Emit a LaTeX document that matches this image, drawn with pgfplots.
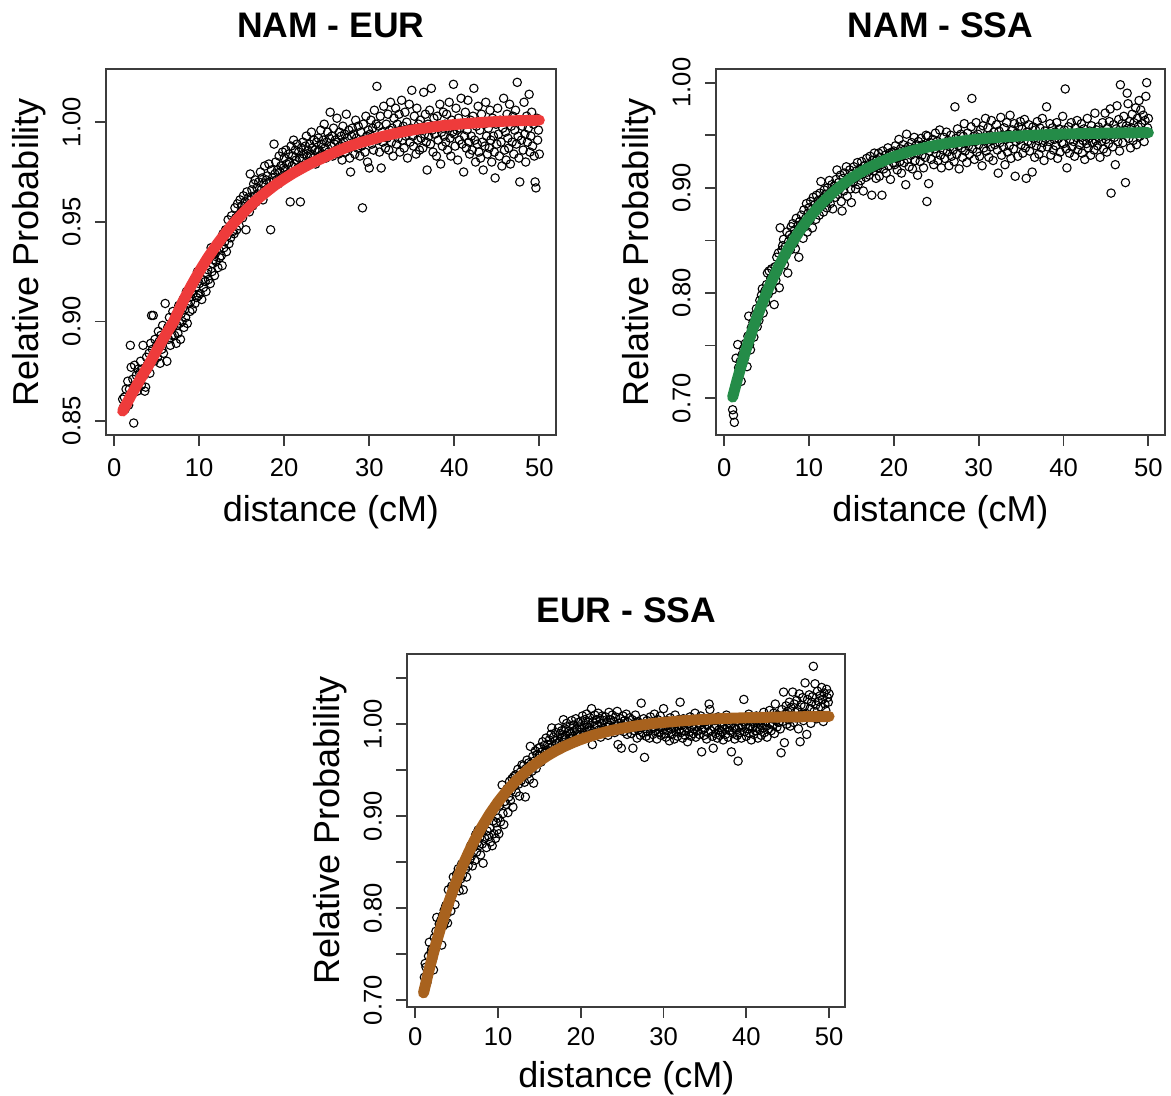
\documentclass[border=0pt]{standalone}
\usepackage{fontspec}
\setmainfont{Liberation Sans}
\usepackage{pgfplots}
\usepackage{pgfplotstable}
\pgfplotsset{compat=1.18}

\definecolor{fitred}{RGB}{238,59,59}
\definecolor{fitgreen}{RGB}{36,140,72}
\definecolor{fitbrown}{RGB}{168,98,30}
\definecolor{frame}{RGB}{60,60,60}

% ---------- NAM - EUR : observed relative probability ----------
\pgfplotstableread{
x y
1.0 0.861
1.1 0.857
1.2 0.862
1.3 0.856
1.4 0.866
1.5 0.859
1.6 0.870
1.7 0.858
1.8 0.866
1.9 0.888
2.0 0.877
2.1 0.864
2.2 0.871
2.3 0.849
2.4 0.878
2.5 0.868
2.6 0.873
2.7 0.865
2.8 0.876
2.9 0.870
3.0 0.874
3.1 0.880
3.2 0.868
3.3 0.876
3.4 0.888
3.5 0.873
3.6 0.865
3.7 0.867
3.8 0.882
3.9 0.876
4.0 0.879
4.1 0.884
4.2 0.874
4.3 0.889
4.4 0.903
4.5 0.886
4.6 0.903
4.7 0.880
4.8 0.891
4.9 0.885
5.0 0.888
5.1 0.882
5.2 0.895
5.3 0.890
5.4 0.879
5.5 0.893
5.6 0.886
5.7 0.898
5.8 0.884
5.9 0.891
6.0 0.909
6.1 0.894
6.2 0.880
6.3 0.897
6.4 0.891
6.5 0.902
6.6 0.888
6.7 0.896
6.8 0.893
6.9 0.905
7.0 0.898
7.1 0.893
7.2 0.903
7.3 0.889
7.4 0.898
7.5 0.894
7.6 0.908
7.7 0.899
7.8 0.891
7.9 0.904
8.0 0.900
8.1 0.911
8.2 0.897
8.3 0.906
8.4 0.902
8.5 0.915
8.6 0.899
8.7 0.909
8.8 0.912
8.9 0.905
9.0 0.910
9.1 0.918
9.2 0.906
9.3 0.914
9.4 0.921
9.5 0.909
9.6 0.917
9.7 0.912
9.8 0.925
9.9 0.913
10.0 0.919
10.1 0.914
10.2 0.926
10.3 0.911
10.4 0.921
10.5 0.917
10.6 0.929
10.7 0.920
10.8 0.915
10.9 0.924
11.0 0.926
11.1 0.921
11.2 0.932
11.3 0.919
11.4 0.937
11.5 0.925
11.6 0.929
11.7 0.931
11.8 0.923
11.9 0.934
12.0 0.930
12.1 0.939
12.2 0.927
12.3 0.936
12.4 0.932
12.5 0.941
12.6 0.933
12.7 0.928
12.8 0.944
12.9 0.937
13.0 0.940
13.1 0.946
13.2 0.935
13.3 0.943
13.4 0.951
13.5 0.939
13.6 0.947
13.7 0.942
13.8 0.953
13.9 0.945
14.0 0.950
14.1 0.944
14.2 0.957
14.3 0.952
14.4 0.946
14.5 0.959
14.6 0.953
14.7 0.948
14.8 0.961
14.9 0.955
15.0 0.958
15.1 0.952
15.2 0.963
15.3 0.956
15.4 0.960
15.5 0.946
15.6 0.965
15.7 0.958
15.8 0.962
15.9 0.955
16.0 0.974
16.1 0.961
16.2 0.966
16.3 0.958
16.4 0.969
16.5 0.963
16.6 0.971
16.7 0.960
16.8 0.967
16.9 0.964
17.0 0.970
17.1 0.963
17.2 0.975
17.3 0.966
17.4 0.972
17.5 0.961
17.6 0.969
17.7 0.978
17.8 0.965
17.9 0.971
18.0 0.973
18.1 0.967
18.2 0.979
18.3 0.970
18.4 0.946
18.5 0.976
18.6 0.972
18.7 0.968
18.8 0.989
18.9 0.974
19.0 0.980
19.1 0.971
19.2 0.976
19.3 0.969
19.4 0.983
19.5 0.975
19.6 0.978
19.7 0.972
19.8 0.985
19.9 0.977
20.0 0.982
20.1 0.976
20.2 0.986
20.3 0.979
20.4 0.974
20.5 0.984
20.6 0.980
20.7 0.960
20.8 0.988
20.9 0.978
21.0 0.983
21.1 0.991
21.2 0.979
21.3 0.986
21.4 0.981
21.5 0.989
21.6 0.977
21.7 0.985
21.8 0.982
21.9 0.960
22.0 0.987
22.1 0.982
22.2 0.990
22.3 0.984
22.4 0.978
22.5 0.988
22.6 0.993
22.7 0.983
22.8 0.986
22.9 0.980
23.0 0.989
23.1 0.984
23.2 0.995
23.3 0.987
23.4 0.982
23.5 0.991
23.6 0.986
23.7 0.979
23.8 0.990
23.9 0.985
24.0 0.992
24.1 0.986
24.2 0.983
24.3 0.996
24.4 0.989
24.5 0.984
24.6 0.991
24.7 0.999
24.8 0.987
24.9 0.982
25.0 0.990
25.1 0.995
25.2 0.985
25.3 0.992
25.4 1.005
25.5 0.988
25.6 0.993
25.7 0.983
25.8 0.997
25.9 0.989
26.0 0.991
26.1 0.986
26.2 1.002
26.3 0.990
26.4 0.984
26.5 0.995
26.6 0.988
26.7 0.993
26.8 0.981
26.9 0.998
27.0 0.990
27.1 0.994
27.2 0.985
27.3 1.004
27.4 0.992
27.5 0.987
27.6 0.996
27.7 0.982
27.8 0.975
27.9 0.993
28.0 0.997
28.1 0.989
28.2 0.994
28.3 0.984
28.4 1.001
28.5 0.992
28.6 0.987
28.7 0.998
28.8 0.990
28.9 0.983
29.0 0.995
29.1 0.988
29.2 0.957
29.3 0.999
29.4 0.991
29.5 0.985
29.6 1.003
29.7 0.993
29.8 0.980
29.9 0.996
30.0 0.977
30.1 0.994
30.2 1.001
30.3 0.989
30.4 0.997
30.5 0.986
30.6 1.006
30.7 0.992
30.8 0.999
30.9 1.018
31.0 0.991
31.1 0.998
31.2 0.985
31.3 1.003
31.4 0.977
31.5 0.995
31.6 0.990
31.7 1.008
31.8 0.993
31.9 0.987
32.0 0.999
32.1 0.992
32.2 1.004
32.3 0.986
32.4 0.996
32.5 1.010
32.6 0.990
32.7 0.997
32.8 0.983
32.9 1.002
33.0 0.994
33.1 1.007
33.2 0.989
33.3 0.999
33.4 0.992
33.5 1.004
33.6 0.985
33.7 0.996
33.8 1.011
33.9 0.991
34.0 0.998
34.1 0.987
34.2 1.005
34.3 0.993
34.4 1.000
34.5 0.982
34.6 0.996
34.7 1.009
34.8 0.990
34.9 0.997
35.0 1.016
35.1 0.993
35.2 0.988
35.3 1.003
35.4 0.996
35.5 0.984
35.6 1.007
35.7 0.991
35.8 0.999
35.9 0.986
36.0 1.001
36.1 0.992
36.2 0.997
36.3 0.987
36.4 1.015
36.5 0.994
36.6 1.004
36.7 0.990
36.8 0.976
36.9 0.999
37.0 0.993
37.1 1.006
37.2 0.989
37.3 1.017
37.4 0.996
37.5 0.985
37.6 1.002
37.7 0.994
37.8 0.998
37.9 0.983
38.0 1.003
38.1 0.991
38.2 0.997
38.3 1.009
38.4 0.979
38.5 0.995
38.6 0.988
38.7 1.005
38.8 0.993
38.9 0.999
39.0 0.990
39.1 1.004
39.2 0.986
39.3 0.997
39.4 1.010
39.5 0.992
39.6 0.983
39.7 1.001
39.8 0.995
39.9 1.019
40.0 0.994
40.1 0.988
40.2 1.007
40.3 0.996
40.4 0.981
40.5 1.002
40.6 0.991
40.7 0.997
40.8 1.012
40.9 0.989
41.0 0.999
41.1 0.975
41.2 0.993
41.3 1.005
41.4 0.987
41.5 0.996
41.6 1.011
41.7 0.990
41.8 0.984
41.9 1.001
42.0 0.993
42.1 0.986
42.2 1.003
42.3 1.017
42.4 0.991
42.5 0.980
42.6 0.998
42.7 0.989
42.8 1.008
42.9 0.985
43.0 0.996
43.1 0.982
43.2 1.004
43.3 0.990
43.4 0.976
43.5 0.999
43.6 0.988
43.7 1.010
43.8 0.993
43.9 0.984
44.0 0.997
44.1 0.987
44.2 1.006
44.3 0.991
44.4 0.980
44.5 1.002
44.6 0.993
44.7 0.985
44.8 0.972
44.9 0.999
45.0 0.989
45.1 1.007
45.2 0.994
45.3 0.983
45.4 1.001
45.5 0.990
45.6 0.978
45.7 0.997
45.8 1.012
45.9 0.986
46.0 0.995
46.1 0.981
46.2 1.004
46.3 0.992
46.4 0.987
46.5 1.009
46.6 0.979
46.7 0.998
46.8 0.990
46.9 1.003
47.0 0.984
47.1 0.996
47.2 1.006
47.3 0.989
47.4 1.020
47.5 0.993
47.6 0.982
47.7 0.970
47.8 1.001
47.9 0.991
48.0 0.998
48.1 0.986
48.2 1.010
48.3 0.994
48.4 0.980
48.5 1.003
48.6 0.990
48.7 0.997
48.8 1.014
48.9 0.985
49.0 0.993
49.1 1.005
49.2 0.988
49.3 0.999
49.4 0.983
49.5 0.970
49.6 0.967
49.7 1.002
49.8 0.991
49.9 0.996
50.0 0.984
}\obsNamEur

% fitted curve, NAM - EUR
\pgfplotstableread{
x y
1 0.8550
2 0.8630
3 0.8705
4 0.8777
5 0.8854
6 0.8929
7 0.9000
8 0.9092
9 0.9174
10 0.9250
11 0.9319
12 0.9381
13 0.9438
14 0.9490
15 0.9537
16 0.9580
17 0.9619
18 0.9654
19 0.9687
20 0.9716
21 0.9743
22 0.9767
23 0.9790
24 0.9810
25 0.9830
26 0.9850
27 0.9868
28 0.9884
29 0.9898
30 0.9910
31 0.9922
32 0.9933
33 0.9943
34 0.9952
35 0.9960
36 0.9967
37 0.9973
38 0.9979
39 0.9984
40 0.9988
41 0.9992
42 0.9995
43 0.9998
44 1.0001
45 1.0003
46 1.0005
47 1.0007
48 1.0008
49 1.0009
50 1.0010
}\fitNamEur

% ---------- NAM - SSA : observed relative probability ----------
\pgfplotstableread{
x y
1.0 0.689
1.1 0.684
1.2 0.677
1.3 0.712
1.4 0.738
1.5 0.718
1.6 0.751
1.7 0.729
1.8 0.724
1.9 0.735
2.0 0.716
2.1 0.741
2.2 0.733
2.3 0.747
2.4 0.738
2.5 0.752
2.6 0.744
2.7 0.730
2.8 0.759
2.9 0.778
3.0 0.751
3.1 0.746
3.2 0.767
3.3 0.761
3.4 0.772
3.5 0.758
3.6 0.779
3.7 0.770
3.8 0.785
3.9 0.768
4.0 0.782
4.1 0.774
4.2 0.793
4.3 0.786
4.4 0.798
4.5 0.804
4.6 0.781
4.7 0.795
4.8 0.802
4.9 0.791
5.0 0.808
5.1 0.819
5.2 0.799
5.3 0.821
5.4 0.806
5.5 0.814
5.6 0.823
5.7 0.803
5.8 0.817
5.9 0.789
6.0 0.825
6.1 0.812
6.2 0.834
6.3 0.820
6.4 0.838
6.5 0.805
6.6 0.862
6.7 0.829
6.8 0.841
6.9 0.845
7.0 0.851
7.1 0.827
7.2 0.844
7.3 0.836
7.4 0.858
7.5 0.819
7.6 0.849
7.7 0.855
7.8 0.841
7.9 0.863
8.0 0.853
8.1 0.866
8.2 0.847
8.3 0.860
8.4 0.842
8.5 0.871
8.6 0.856
8.7 0.864
8.8 0.834
8.9 0.868
9.0 0.859
9.1 0.874
9.2 0.866
9.3 0.852
9.4 0.879
9.5 0.863
9.6 0.871
9.7 0.885
9.8 0.858
9.9 0.876
10.0 0.881
10.1 0.869
10.2 0.887
10.3 0.874
10.4 0.862
10.5 0.891
10.6 0.878
10.7 0.884
10.8 0.870
10.9 0.893
11.0 0.879
11.1 0.888
11.2 0.874
11.3 0.895
11.4 0.906
11.5 0.883
11.6 0.890
11.7 0.877
11.8 0.898
11.9 0.886
12.0 0.894
12.1 0.881
12.2 0.900
12.3 0.889
12.4 0.907
12.5 0.885
12.6 0.896
12.7 0.903
12.8 0.880
12.9 0.899
13.0 0.902
13.1 0.891
13.2 0.908
13.3 0.917
13.4 0.894
13.5 0.905
13.6 0.899
13.7 0.912
13.8 0.887
13.9 0.878
14.0 0.909
14.1 0.897
14.2 0.914
14.3 0.903
14.4 0.920
14.5 0.892
14.6 0.910
14.7 0.906
14.8 0.917
14.9 0.899
15.0 0.886
15.1 0.913
15.2 0.905
15.3 0.920
15.4 0.909
15.5 0.899
15.6 0.916
15.7 0.924
15.8 0.903
15.9 0.912
16.0 0.918
16.1 0.907
16.2 0.925
16.3 0.913
16.4 0.897
16.5 0.921
16.6 0.921
16.7 0.910
16.8 0.928
16.9 0.915
17.0 0.922
17.1 0.912
17.2 0.930
17.3 0.918
17.4 0.893
17.5 0.926
17.6 0.916
17.7 0.933
17.8 0.920
17.9 0.909
18.0 0.927
18.1 0.919
18.2 0.933
18.3 0.911
18.4 0.929
18.5 0.922
18.6 0.893
18.7 0.935
18.8 0.918
18.9 0.926
19.0 0.931
19.1 0.914
19.2 0.927
19.3 0.938
19.4 0.921
19.5 0.933
19.6 0.908
19.7 0.929
19.8 0.934
19.9 0.924
20.0 0.935
20.1 0.922
20.2 0.940
20.3 0.928
20.4 0.917
20.5 0.933
20.6 0.946
20.7 0.925
20.8 0.937
20.9 0.914
21.0 0.930
21.1 0.941
21.2 0.924
21.3 0.936
21.4 0.903
21.5 0.951
21.6 0.927
21.7 0.939
21.8 0.920
21.9 0.934
22.0 0.931
22.1 0.943
22.2 0.918
22.3 0.937
22.4 0.948
22.5 0.926
22.6 0.940
22.7 0.933
22.8 0.912
22.9 0.944
23.0 0.936
23.1 0.925
23.2 0.947
23.3 0.931
23.4 0.941
23.5 0.919
23.6 0.938
23.7 0.929
23.8 0.950
23.9 0.887
24.0 0.949
24.1 0.904
24.2 0.935
24.3 0.943
24.4 0.927
24.5 0.939
24.6 0.946
24.7 0.922
24.8 0.937
24.9 0.952
25.0 0.933
25.1 0.944
25.2 0.926
25.3 0.940
25.4 0.955
25.5 0.931
25.6 0.919
25.7 0.942
25.8 0.936
25.9 0.948
26.0 0.928
26.1 0.941
26.2 0.953
26.3 0.934
26.4 0.945
26.5 0.921
26.6 0.939
26.7 0.950
26.8 0.930
26.9 0.943
27.0 0.936
27.1 0.925
27.2 0.977
27.3 0.947
27.4 0.932
27.5 0.956
27.6 0.940
27.7 0.918
27.8 0.944
27.9 0.951
28.0 0.938
28.1 0.929
28.2 0.949
28.3 0.961
28.4 0.935
28.5 0.943
28.6 0.924
28.7 0.952
28.8 0.940
28.9 0.932
29.0 0.946
29.1 0.958
29.2 0.985
29.3 0.937
29.4 0.949
29.5 0.927
29.6 0.944
29.7 0.962
29.8 0.934
29.9 0.951
30.0 0.941
30.1 0.930
30.2 0.955
30.3 0.946
30.4 0.921
30.5 0.959
30.6 0.938
30.7 0.948
30.8 0.966
30.9 0.935
31.0 0.943
31.1 0.957
31.2 0.929
31.3 0.950
31.4 0.939
31.5 0.964
31.6 0.945
31.7 0.926
31.8 0.953
31.9 0.941
32.0 0.948
32.1 0.960
32.2 0.936
32.3 0.914
32.4 0.954
32.5 0.943
32.6 0.967
32.7 0.931
32.8 0.950
32.9 0.939
33.0 0.957
33.1 0.922
33.2 0.946
33.3 0.962
33.4 0.934
33.5 0.951
33.6 0.940
33.7 0.969
33.8 0.928
33.9 0.947
34.0 0.955
34.1 0.937
34.2 0.961
34.3 0.911
34.4 0.944
34.5 0.952
34.6 0.930
34.7 0.958
34.8 0.946
34.9 0.963
35.0 0.941
35.1 0.956
35.2 0.933
35.3 0.949
35.4 0.965
35.5 0.938
35.6 0.909
35.7 0.953
35.8 0.944
35.9 0.960
36.0 0.935
36.1 0.951
36.2 0.942
36.3 0.915
36.4 0.958
36.5 0.947
36.6 0.929
36.7 0.955
36.8 0.940
36.9 0.963
37.0 0.945
37.1 0.932
37.2 0.957
37.3 0.950
37.4 0.938
37.5 0.966
37.6 0.943
37.7 0.926
37.8 0.954
37.9 0.947
38.0 0.977
38.1 0.939
38.2 0.952
38.3 0.944
38.4 0.961
38.5 0.931
38.6 0.949
38.7 0.957
38.8 0.936
38.9 0.946
39.0 0.953
39.1 0.940
39.2 0.962
39.3 0.928
39.4 0.947
39.5 0.956
39.6 0.934
39.7 0.951
39.8 0.943
39.9 0.968
40.0 0.942
40.1 0.955
40.2 0.994
40.3 0.937
40.4 0.919
40.5 0.950
40.6 0.958
40.7 0.933
40.8 0.946
40.9 0.962
41.0 0.939
41.1 0.951
41.2 0.944
41.3 0.930
41.4 0.957
41.5 0.948
41.6 0.964
41.7 0.936
41.8 0.953
41.9 0.941
42.0 0.949
42.1 0.961
42.2 0.933
42.3 0.945
42.4 0.956
42.5 0.927
42.6 0.952
42.7 0.942
42.8 0.966
42.9 0.938
43.0 0.947
43.1 0.954
43.2 0.931
43.3 0.959
43.4 0.943
43.5 0.950
43.6 0.936
43.7 0.971
43.8 0.945
43.9 0.955
44.0 0.940
44.1 0.958
44.2 0.948
44.3 0.929
44.4 0.953
44.5 0.944
44.6 0.962
44.7 0.937
44.8 0.950
44.9 0.971
45.0 0.946
45.1 0.934
45.2 0.957
45.3 0.942
45.4 0.963
45.5 0.975
45.6 0.895
45.7 0.951
45.8 0.939
45.9 0.960
46.0 0.948
46.1 0.922
46.2 0.956
46.3 0.978
46.4 0.944
46.5 0.965
46.6 0.935
46.7 0.998
46.8 0.952
46.9 0.961
47.0 0.943
47.1 0.968
47.2 0.955
47.3 0.905
47.4 0.959
47.5 0.990
47.6 0.980
47.7 0.947
47.8 0.963
47.9 0.938
48.0 0.957
48.1 0.970
48.2 0.945
48.3 0.962
48.4 0.953
48.5 0.976
48.6 0.941
48.7 0.966
48.8 0.958
48.9 0.983
49.0 0.949
49.1 0.974
49.2 0.961
49.3 0.952
49.4 0.969
49.5 0.944
49.6 0.964
49.7 0.987
49.8 1.000
49.9 0.957
50.0 0.966
}\obsNamSsa

% fitted curve, NAM - SSA
\pgfplotstableread{
x y
1 0.7010
1.5 0.7163
2 0.7306
2.5 0.7441
3 0.7567
3.5 0.7686
4 0.7798
4.5 0.7903
5 0.8002
5.5 0.8094
6 0.8181
6.5 0.8263
7 0.8340
7.5 0.8412
8 0.8479
9 0.8603
10 0.8712
11 0.8808
12 0.8893
13 0.8968
14 0.9034
15 0.9092
16 0.9143
17 0.9189
18 0.9229
19 0.9264
20 0.9296
21 0.9323
22 0.9348
23 0.9369
24 0.9388
25 0.9405
26 0.9419
27 0.9432
28 0.9444
29 0.9454
30 0.9463
31 0.9471
32 0.9478
33 0.9484
34 0.9489
35 0.9494
36 0.9498
37 0.9502
38 0.9505
39 0.9508
40 0.9511
41 0.9513
42 0.9515
43 0.9517
44 0.9518
45 0.9520
46 0.9521
47 0.9522
48 0.9523
49 0.9524
50 0.9524
}\fitNamSsa

% ---------- EUR - SSA : observed relative probability ----------
\pgfplotstableread{
x y
1.0 0.708
1.1 0.725
1.2 0.740
1.3 0.736
1.4 0.719
1.5 0.731
1.6 0.748
1.7 0.763
1.8 0.739
1.9 0.752
2.0 0.756
2.1 0.745
2.2 0.733
2.3 0.768
2.4 0.757
2.5 0.775
2.6 0.790
2.7 0.764
2.8 0.771
2.9 0.783
3.0 0.779
3.1 0.787
3.2 0.760
3.3 0.792
3.4 0.781
3.5 0.798
3.6 0.786
3.7 0.803
3.8 0.794
3.9 0.784
4.0 0.820
4.1 0.804
4.2 0.812
4.3 0.797
4.4 0.824
4.5 0.815
4.6 0.834
4.7 0.822
4.8 0.804
4.9 0.829
5.0 0.837
5.1 0.826
5.2 0.843
5.3 0.819
5.4 0.840
5.5 0.832
5.6 0.848
5.7 0.836
5.8 0.820
5.9 0.851
6.0 0.849
6.1 0.843
6.2 0.834
6.3 0.858
6.4 0.846
6.5 0.862
6.6 0.853
6.7 0.868
6.8 0.857
6.9 0.846
7.0 0.866
7.1 0.874
7.2 0.852
7.3 0.880
7.4 0.861
7.5 0.871
7.6 0.885
7.7 0.868
7.8 0.877
7.9 0.858
8.0 0.883
8.1 0.870
8.2 0.849
8.3 0.890
8.4 0.876
8.5 0.895
8.6 0.866
8.7 0.884
8.8 0.899
8.9 0.878
9.0 0.887
9.1 0.872
9.2 0.903
9.3 0.868
9.4 0.895
9.5 0.881
9.6 0.909
9.7 0.876
9.8 0.893
9.9 0.885
10.0 0.898
10.1 0.881
10.2 0.912
10.3 0.894
10.4 0.920
10.5 0.934
10.6 0.903
10.7 0.891
10.8 0.916
10.9 0.925
11.0 0.913
11.1 0.930
11.2 0.904
11.3 0.921
11.4 0.938
11.5 0.917
11.6 0.928
11.7 0.941
11.8 0.910
11.9 0.943
12.0 0.933
12.1 0.945
12.2 0.926
12.3 0.940
12.4 0.951
12.5 0.935
12.6 0.922
12.7 0.948
12.8 0.939
12.9 0.956
13.0 0.943
13.1 0.955
13.2 0.937
13.3 0.921
13.4 0.952
13.5 0.961
13.6 0.946
13.7 0.958
13.8 0.940
13.9 0.976
14.0 0.957
14.1 0.949
14.2 0.965
14.3 0.936
14.4 0.960
14.5 0.971
14.6 0.952
14.7 0.967
14.8 0.958
14.9 0.974
15.0 0.966
15.1 0.975
15.2 0.959
15.3 0.970
15.4 0.981
15.5 0.964
15.6 0.977
15.7 0.969
15.8 0.985
15.9 0.972
16.0 0.978
16.1 0.968
16.2 0.983
16.3 0.974
16.4 0.989
16.5 0.996
16.6 0.976
16.7 0.986
16.8 0.971
16.9 0.982
17.0 0.991
17.1 0.979
17.2 0.985
17.3 0.996
17.4 0.981
17.5 0.990
17.6 0.975
17.7 0.993
17.8 0.986
17.9 1.005
18.0 0.983
18.1 0.995
18.2 0.988
18.3 1.001
18.4 0.979
18.5 0.992
18.6 0.985
18.7 0.998
18.8 0.990
18.9 1.004
19.0 0.987
19.1 0.999
19.2 0.993
19.3 0.983
19.4 1.006
19.5 0.995
19.6 0.989
19.7 1.002
19.8 0.997
19.9 0.991
20.0 1.003
20.1 0.994
20.2 1.009
20.3 0.988
20.4 0.999
20.5 1.005
20.6 0.992
20.7 1.011
20.8 0.997
20.9 1.002
21.0 0.996
21.1 1.007
21.2 0.993
21.3 1.017
21.4 0.978
21.5 1.003
21.6 0.998
21.7 1.010
21.8 0.990
21.9 1.005
22.0 0.999
22.1 1.012
22.2 0.994
22.3 1.006
22.4 0.986
22.5 1.001
22.6 1.009
22.7 0.996
22.8 1.004
22.9 0.991
23.0 1.008
23.1 0.997
23.2 1.002
23.3 0.988
23.4 1.013
23.5 0.999
23.6 1.005
23.7 0.993
23.8 1.010
23.9 0.996
24.0 1.003
24.1 0.991
24.2 1.008
24.3 0.998
24.4 1.014
24.5 0.978
24.6 1.001
24.7 0.994
24.8 1.006
24.9 0.974
25.0 0.999
25.1 1.009
25.2 0.992
25.3 1.004
25.4 0.997
25.5 1.011
25.6 0.989
25.7 1.002
25.8 0.995
25.9 1.007
26.0 0.998
26.1 0.990
26.2 1.005
26.3 0.974
26.4 1.000
26.5 0.993
26.6 1.010
26.7 0.996
26.8 0.985
26.9 1.003
27.0 0.994
27.1 1.001
27.2 0.988
27.3 1.023
27.4 0.997
27.5 0.991
27.6 1.006
27.7 0.964
27.8 0.999
27.9 0.987
28.0 1.004
28.1 0.992
28.2 0.998
28.3 0.985
28.4 1.008
28.5 0.995
28.6 1.001
28.7 0.989
28.8 0.996
28.9 1.011
29.0 0.993
29.1 0.999
29.2 0.984
29.3 1.005
29.4 0.991
29.5 0.997
29.6 1.009
29.7 0.988
29.8 1.002
29.9 0.994
30.0 1.017
30.1 0.990
30.2 0.998
30.3 0.986
30.4 1.004
30.5 0.993
30.6 0.999
30.7 0.982
30.8 1.007
30.9 0.995
31.0 0.989
31.1 1.003
31.2 0.996
31.3 0.984
31.4 1.010
31.5 0.992
31.6 0.998
31.7 0.987
31.8 1.005
31.9 0.994
32.0 1.024
32.1 0.991
32.2 0.999
32.3 0.985
32.4 1.006
32.5 0.993
32.6 0.988
32.7 1.002
32.8 0.996
32.9 0.981
33.0 1.001
33.1 0.992
33.2 1.008
33.3 0.987
33.4 0.997
33.5 1.004
33.6 0.990
33.7 0.995
33.8 1.012
33.9 0.986
34.0 0.998
34.1 0.993
34.2 1.005
34.3 0.989
34.4 0.999
34.5 1.009
34.6 0.970
34.7 0.994
34.8 1.002
34.9 0.988
35.0 0.996
35.1 1.003
35.2 0.984
35.3 0.999
35.4 0.991
35.5 1.022
35.6 1.016
35.7 0.993
35.8 1.006
35.9 0.987
36.0 0.974
36.1 0.997
36.2 1.004
36.3 0.990
36.4 0.999
36.5 0.985
36.6 1.008
36.7 0.994
36.8 0.988
36.9 1.002
37.0 0.992
37.1 0.998
37.2 0.983
37.3 1.005
37.4 0.995
37.5 0.989
37.6 1.010
37.7 0.996
37.8 0.986
37.9 1.001
38.0 0.993
38.1 0.999
38.2 0.970
38.3 1.006
38.4 0.990
38.5 0.996
38.6 0.984
38.7 1.003
38.8 0.994
38.9 0.988
39.0 0.960
39.1 0.998
39.2 0.991
39.3 1.007
39.4 0.985
39.5 0.997
39.6 1.003
39.7 1.027
39.8 0.992
39.9 0.999
40.0 0.987
40.1 1.004
40.2 0.995
40.3 1.011
40.4 0.990
40.5 0.998
40.6 0.983
40.7 1.006
40.8 0.996
40.9 0.989
41.0 1.002
41.1 0.993
41.2 1.009
41.3 0.997
41.4 0.985
41.5 1.004
41.6 0.994
41.7 1.000
41.8 0.988
41.9 1.007
42.0 0.996
42.1 1.013
42.2 0.991
42.3 1.003
42.4 0.998
42.5 0.986
42.6 1.008
42.7 0.995
42.8 1.015
42.9 1.001
43.0 0.993
43.1 1.006
43.2 0.999
43.3 1.012
43.4 0.990
43.5 1.022
43.6 1.004
43.7 0.997
43.8 1.010
43.9 1.002
44.0 1.008
44.1 0.995
44.2 0.969
44.3 1.016
44.4 1.003
44.5 1.035
44.6 0.980
44.7 1.011
44.8 1.020
44.9 1.000
45.0 1.014
45.1 1.005
45.2 1.024
45.3 0.998
45.4 1.018
45.5 1.009
45.6 1.035
45.7 1.002
45.8 1.022
45.9 1.013
46.0 1.007
46.1 1.026
46.2 1.016
46.3 0.995
46.4 1.033
46.5 0.981
46.6 1.021
46.7 1.011
46.8 1.029
46.9 1.004
47.0 1.019
47.1 1.045
47.2 1.012
47.3 0.989
47.4 1.027
47.5 1.008
47.6 1.032
47.7 1.017
47.8 1.001
47.9 1.024
48.0 1.030
48.1 1.063
48.2 1.014
48.3 1.044
48.4 1.021
48.5 1.006
48.6 1.036
48.7 1.025
48.8 1.010
48.9 1.031
49.0 1.019
49.1 1.040
49.2 1.027
49.3 1.003
49.4 1.034
49.5 1.022
49.6 1.015
49.7 1.038
49.8 1.029
49.9 1.024
50.0 1.033
}\obsEurSsa

% fitted curve, EUR - SSA
\pgfplotstableread{
x y
1 0.7080
1.5 0.7269
2 0.7447
2.5 0.7613
3 0.7768
3.5 0.7914
4 0.8051
4.5 0.8179
5 0.8300
5.5 0.8412
6 0.8518
6.5 0.8617
7 0.8709
7.5 0.8796
8 0.8877
9 0.9025
10 0.9155
11 0.9269
12 0.9369
13 0.9456
14 0.9534
15 0.9601
16 0.9661
17 0.9713
18 0.9759
19 0.9799
20 0.9835
21 0.9866
22 0.9893
23 0.9917
24 0.9938
25 0.9957
26 0.9973
27 0.9987
28 1.0000
29 1.0011
30 1.0020
31 1.0028
32 1.0036
33 1.0042
34 1.0048
35 1.0053
36 1.0058
37 1.0062
38 1.0065
39 1.0068
40 1.0071
41 1.0073
42 1.0075
43 1.0077
44 1.0079
45 1.0080
46 1.0081
47 1.0082
48 1.0083
49 1.0084
50 1.0085
}\fitEurSsa

\pgfplotsset{
  rpanel/.style={
    scale only axis,
    clip marker paths=true,
    xmin=-0.96, xmax=51.96,
    axis line style={frame, line width=0.9pt},
    every tick/.style={frame, line width=0.9pt},
    tick align=outside,
    major tick length=5.5pt,
    xtick pos=left, ytick pos=left,
    xtick={0,10,20,30,40,50},
    xticklabels={0,10,20,30,40,50},
    ticklabel style={font=\fontsize{12.8}{14}\selectfont, inner sep=0pt},
    xticklabel style={anchor=north},
    yticklabel style={rotate=90, anchor=south},
    xticklabel shift=6.2pt,
    yticklabel shift=7pt,
    xlabel={distance (cM)},
    ylabel={Relative Probability},
    label style={font=\fontsize{18}{20}\selectfont, inner sep=0pt},
    title style={font=\fontsize{17.75}{20}\selectfont\bfseries, inner sep=0pt, anchor=base},
  },
  obs/.style={only marks, mark=o, mark size=2.1pt,
    mark options={black, line width=0.55pt}},
  fit/.style={no marks, line width=5.5pt, line cap=round, line join=round},
}

\begin{document}
\begin{tikzpicture}
\path[use as bounding box] (0,0) rectangle (585.5pt,548pt);

% top left
\begin{axis}[rpanel,
  at={(53pt,330.5pt)}, anchor=south west,
  width=225pt, height=183pt,
  ymin=0.843, ymax=1.0267,
  ytick={0.85,0.90,0.95,1.00},
  yticklabels={0.85,0.90,0.95,1.00},
  title={NAM - EUR},
  title style={at={(axis description cs:0.5,1.0527)}},
  xlabel style={at={(axis description cs:0.5,-0.2369)}, anchor=base},
  ylabel style={at={(axis description cs:-0.1511,0.5)}, anchor=base},
]
\addplot[obs] table {\obsNamEur};
\addplot[fit, fitred] table {\fitNamEur};
\end{axis}

% top right
\begin{axis}[rpanel,
  at={(358pt,330.5pt)}, anchor=south west,
  width=224.5pt, height=183pt,
  ymin=0.665, ymax=1.013,
  ytick={0.70,0.75,0.80,0.85,0.90,0.95,1.00},
  yticklabels={0.70,,0.80,,0.90,,1.00},
  title={NAM - SSA},
  title style={at={(axis description cs:0.5,1.0527)}},
  xlabel style={at={(axis description cs:0.5,-0.2369)}, anchor=base},
  ylabel style={at={(axis description cs:-0.1514,0.5)}, anchor=base},
]
\addplot[obs] table {\obsNamSsa};
\addplot[fit, fitgreen] table {\fitNamSsa};
\end{axis}

% bottom centre
\begin{axis}[rpanel,
  at={(203.65pt,44.65pt)}, anchor=south west,
  width=219pt, height=176.35pt,
  ymin=0.693, ymax=1.0764,
  ytick={0.70,0.75,0.80,0.85,0.90,0.95,1.00,1.05},
  yticklabels={0.70,,0.80,,0.90,,1.00,},
  xticklabel shift=5pt,
  title={EUR - SSA},
  title style={at={(axis description cs:0.5,1.0547)}},
  xlabel style={at={(axis description cs:0.5,-0.2297)}, anchor=base},
  ylabel style={at={(axis description cs:-0.1553,0.5)}, anchor=base},
]
\addplot[obs] table {\obsEurSsa};
\addplot[fit, fitbrown] table {\fitEurSsa};
\end{axis}
\end{tikzpicture}
\end{document}
